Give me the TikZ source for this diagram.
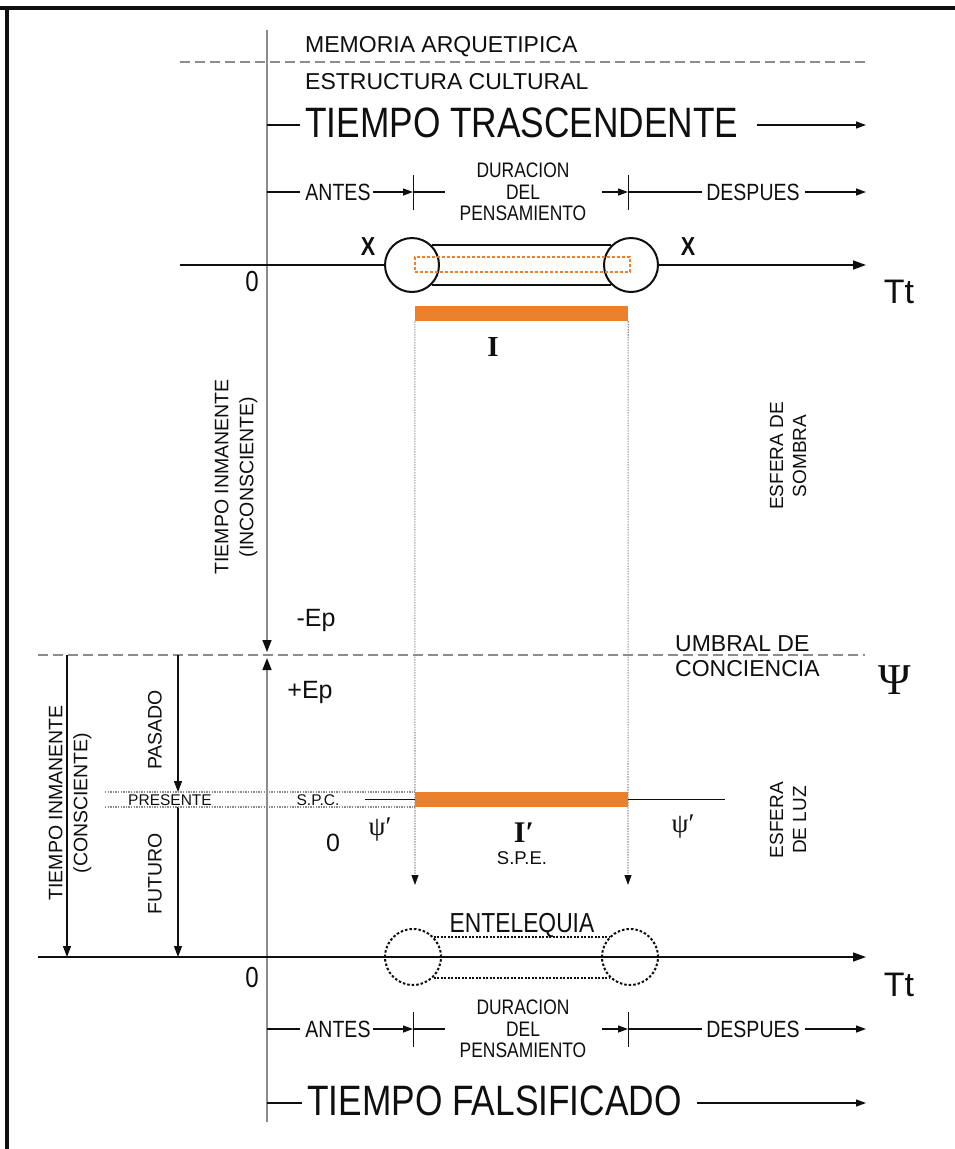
\documentclass[tikz,border=0pt]{standalone}
\usepackage{fontspec}
\setmainfont{Liberation Sans}
\newfontfamily\narfont[FakeStretch=0.83]{Liberation Sans}
\newfontfamily\serfont{Liberation Serif}
\usetikzlibrary{arrows.meta}
\definecolor{orng}{RGB}{234,128,44}
\definecolor{axgray}{RGB}{140,140,140}
\definecolor{ink}{RGB}{15,15,15}
\newcommand\fs[2]{\fontsize{#1}{#2}\selectfont}
\begin{document}
\begin{tikzpicture}[x=1pt,y=-1pt,
  txt/.style={inner sep=0pt,text=ink},
  ln/.style={draw=ink,line width=1.3pt},
  arw/.style={ln,-{Triangle[length=10pt,width=7pt]}},
  axln/.style={draw=axgray,line width=1.6pt},
  dashln/.style={draw=axgray,line width=1.4pt,dash pattern=on 10pt off 5pt},
  dotln/.style={draw=axgray,line width=1.1pt,dash pattern=on 1.3pt off 1.3pt},
  rowtxt/.style={txt,font=\narfont\fs{23.5}{23.5}},
  durtxt/.style={txt,align=center,font=\narfont\fs{21}{21.5}},
  side/.style={txt,rotate=90,align=center,font=\fs{19.5}{25}},
  ring/.style={circle,draw=ink,line width=2pt,minimum size=54pt,inner sep=0pt},
  obar/.style={fill=orng,minimum width=213pt,minimum height=15pt,inner sep=0pt},
]
\useasboundingbox (0,0) rectangle (955,1149);
\fill[white] (0,0) rectangle (955,1149);
\draw[ink,line width=3.5pt] (0,8) -- (955,8);
\draw[ink,line width=3.5pt] (7,6.25) -- (7,1149);

% main vertical axis
\coordinate (vtop) at (267,30);
\coordinate (vmidA) at (267,652);
\coordinate (vmidB) at (267,658);
\coordinate (vbot) at (267,1122);
\draw[axln,-{Triangle[length=12pt,width=9pt,color=ink]}] (vtop) -- (vmidA);
\draw[axln,-{Triangle[length=12pt,width=9pt,color=ink]}] (vbot) -- (vmidB);

% top dashed line and labels
\coordinate (dA1) at (180,62); \coordinate (dA2) at (865,62);
\draw[dashln] (dA1) -- (dA2);
\node[txt,anchor=west,font=\fs{23}{23}] (mem) at (305,47) {MEMORIA ARQUETIPICA};
\node[txt,anchor=west,font=\fs{23}{23}] (est) at (305,82) {ESTRUCTURA CULTURAL};

% tiempo trascendente
\node[txt,anchor=west,font=\narfont\fs{42.5}{42.5}] (ttr) at (305,123) {TIEMPO TRASCENDENTE};
\coordinate (ttL) at (267,125); \coordinate (ttLe) at (300,125);
\coordinate (ttR) at (757,125); \coordinate (ttRe) at (866,125);
\draw[ln] (ttL) -- (ttLe);
\draw[arw] (ttR) -- (ttRe);

% antes / duracion / despues rows
\foreach \rw/\y in {up/192, dn/1029} {
  \coordinate (\rw a) at (267,\y); \coordinate (\rw b) at (300,\y);
  \draw[ln] (\rw a) -- (\rw b);
  \node[rowtxt] (\rw antes) at (338,\y) {ANTES};
  \coordinate (\rw c) at (373,\y); \coordinate (\rw d) at (413,\y);
  \draw[arw] (\rw c) -- (\rw d);
  \coordinate (\rw t1) at (413,\y-17); \coordinate (\rw t2) at (413,\y+18);
  \draw[ln,line width=1pt] (\rw t1) -- (\rw t2);
  \coordinate (\rw e) at (445,\y);
  \draw[ln] (\rw d) -- (\rw e);
  \node[durtxt] (\rw dur) at (523,\y) {DURACION\\DEL\\PENSAMIENTO};
  \coordinate (\rw f) at (602,\y); \coordinate (\rw g) at (628,\y);
  \draw[arw] (\rw f) -- (\rw g);
  \coordinate (\rw t3) at (628,\y-17); \coordinate (\rw t4) at (628,\y+18);
  \draw[ln,line width=1pt] (\rw t3) -- (\rw t4);
  \coordinate (\rw h) at (702,\y);
  \draw[ln] (\rw g) -- (\rw h);
  \node[rowtxt] (\rw desp) at (753,\y) {DESPUES};
  \coordinate (\rw i) at (805,\y); \coordinate (\rw j) at (866,\y);
  \draw[arw] (\rw i) -- (\rw j);
}

% top capsule
\node[ring] (lc) at (412,265) {};
\node[ring] (rc) at (631,265) {};
\draw[ink,line width=2pt] (lc.45) -- (rc.135);
\draw[ink,line width=2pt] (lc.-45) -- (rc.-135);
\coordinate (ax1a) at (180,265); \coordinate (ax1b) at (866,265);
\draw[ln,line width=1.5pt] (ax1a) -- (lc.west);
\draw[ln,line width=1.5pt,-{Triangle[length=13pt,width=9pt]}] (rc.east) -- (ax1b);
\node[draw=orng,line width=1.6pt,dash pattern=on 3pt off 2pt,minimum width=215pt,minimum height=15pt,inner sep=0pt] (odr) at (522.5,264.5) {};
\node[txt,font=\narfont\bfseries\fs{26}{26}] (x1) at (368,247) {X};
\node[txt,font=\narfont\bfseries\fs{26}{26}] (x2) at (688,247) {X};
\node[txt,font=\narfont\fs{29}{29}] (z1) at (252,282) {0};
\node[txt,font=\fs{34}{34}] (tt1) at (899,292) {Tt};

% dotted verticals and bars
\coordinate (dv1) at (415,885); \coordinate (dv2) at (628,885);
\node[obar] (bar1) at (521.5,313.5) {};
\draw[dotln,-{Triangle[length=10pt,width=7pt,color=ink]}] (bar1.south west) -- (dv1);
\draw[dotln,-{Triangle[length=10pt,width=7pt,color=ink]}] (bar1.south east) -- (dv2);
\node[txt,font=\serfont\bfseries\fs{29}{29}] (I1) at (493,347) {I};

% threshold
\coordinate (dB1) at (38,655); \coordinate (dB2) at (865,655);
\draw[dashln] (dB1) -- (dB2);
\node[txt,anchor=west,align=left,font=\fs{23}{25}] (umb) at (675,656) {UMBRAL DE\\CONCIENCIA};
\node[txt,font=\serfont\fs{44}{44}] (psi) at (895,680) {Ψ};
\node[txt,font=\fs{25}{25}] (mep) at (316,620) {-Ep};
\node[txt,font=\fs{25}{25}] (pep) at (310,692) {+Ep};
\node[side] (tii) at (236,477) {TIEMPO INMANENTE\\(INCONSCIENTE)};
\node[side,font=\fs{19}{23}] (esom) at (788,456) {ESFERA DE\\SOMBRA};

% conscious side
\coordinate (cA) at (67,655); \coordinate (cB) at (67,957);
\draw[ln,-{Triangle[length=11pt,width=8pt]}] (cA) -- (cB);
\node[side] (tic) at (70,803) {TIEMPO INMANENTE\\(CONSCIENTE)};
\coordinate (pA) at (178,655); \coordinate (pB) at (178,792);
\draw[ln,-{Triangle[length=11pt,width=8pt]}] (pA) -- (pB);
\node[side,font=\fs{19.5}{19.5}] (pas) at (155,730) {PASADO};
\coordinate (fA) at (178,807); \coordinate (fB) at (178,957);
\draw[ln,-{Triangle[length=11pt,width=8pt]}] (fA) -- (fB);
\node[side,font=\fs{19.5}{19.5}] (fut) at (155,874) {FUTURO};

% presente strip
\coordinate (p1a) at (105,792); \coordinate (p1b) at (415,792);
\coordinate (p2a) at (105,807); \coordinate (p2b) at (415,807);
\draw[dotln] (p1a) -- (p1b);
\draw[dotln] (p2a) -- (p2b);
\node[txt,font=\fs{15.5}{15.5}] (pres) at (170,800) {PRESENTE};
\node[txt,font=\fs{15.5}{15.5}] (spc) at (318,800) {S.P.C.};
\node[obar] (bar2) at (521.5,799.5) {};
\coordinate (sA) at (365,799.5); \coordinate (sB) at (725,799.5);
\draw[ln,line width=1pt] (sA) -- (bar2.west);
\draw[ln,line width=1pt] (bar2.east) -- (sB);
\node[txt,font=\serfont\fs{27}{27}] (psl) at (380,830) {ψ′};
\node[txt,font=\serfont\fs{27}{27}] (psr) at (683,827) {ψ′};
\node[txt,font=\fs{25}{25}] (z2) at (333,843) {0};
\node[txt,font=\serfont\bfseries\fs{30}{30}] (I2) at (524,833) {I′};
\node[txt,font=\fs{18.5}{18.5}] (spe) at (522,858) {S.P.E.};
\node[side,font=\fs{19}{23}] (eluz) at (788,820) {ESFERA\\DE LUZ};

% entelequia
\node[txt,font=\narfont\fs{27.5}{27.5}] (ent) at (522,925) {ENTELEQUIA};
\coordinate (ax2a) at (38,957); \coordinate (ax2b) at (866,957);
\draw[ln,line width=1.5pt,-{Triangle[length=13pt,width=9pt]}] (ax2a) -- (ax2b);
\node[ring,dash pattern=on 2.5pt off 2pt,minimum size=56pt] (lc2) at (413,957) {};
\node[ring,dash pattern=on 2.5pt off 2pt,minimum size=56pt] (rc2) at (630,957) {};
\draw[ink,line width=2pt,dash pattern=on 2pt off 1.5pt] (lc2.45) -- (rc2.135);
\draw[ink,line width=2pt,dash pattern=on 2pt off 1.5pt] (lc2.-45) -- (rc2.-135);
\node[txt,font=\narfont\fs{29}{29}] (z3) at (252,978) {0};
\node[txt,font=\fs{34}{34}] (tt2) at (899,985) {Tt};

% tiempo falsificado
\node[txt,anchor=west,font=\narfont\fs{42.5}{42.5}] (tfa) at (307,1101) {TIEMPO FALSIFICADO};
\coordinate (tfL) at (267,1103); \coordinate (tfLe) at (302,1103);
\coordinate (tfR) at (697,1103); \coordinate (tfRe) at (866,1103);
\draw[ln] (tfL) -- (tfLe);
\draw[arw] (tfR) -- (tfRe);
\end{tikzpicture}
\end{document}
